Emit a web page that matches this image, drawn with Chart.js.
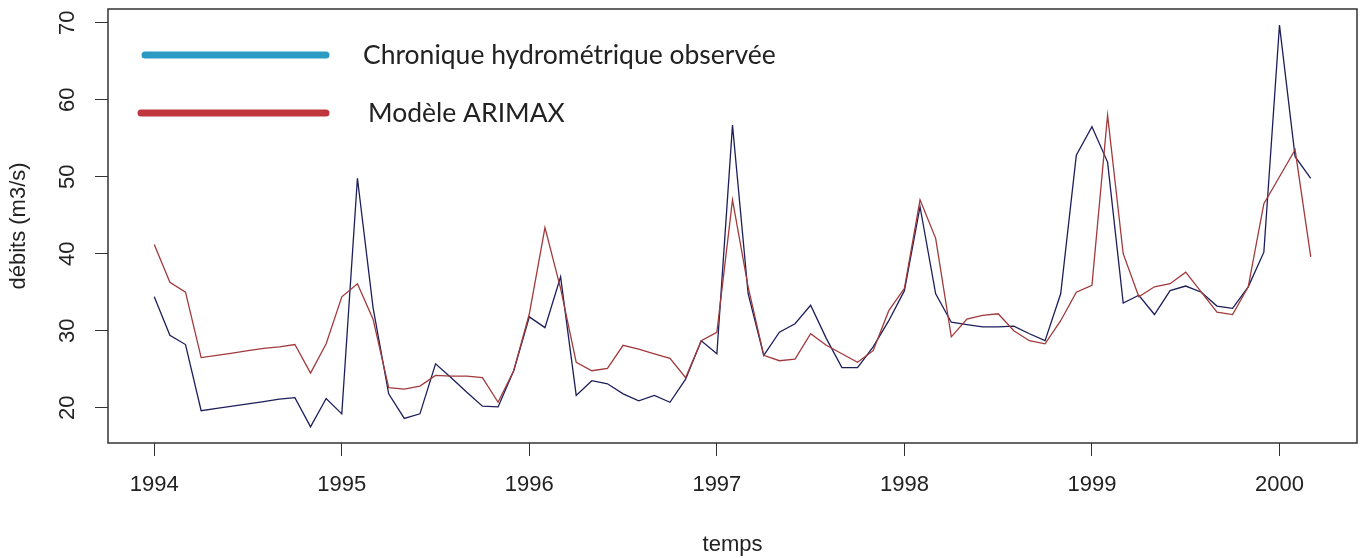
<!DOCTYPE html>
<html>
<head>
<meta charset="utf-8">
<script src="https://cdn.jsdelivr.net/npm/chart.js@4.4.0/dist/chart.umd.min.js"></script>
<style>
  html, body { margin: 0; padding: 0; background: #fff; }
  #wrap { width: 1360px; height: 558px; }
</style>
</head>
<body>
<div id="wrap"><canvas id="debitsChart" width="1360" height="558"></canvas></div>
<script>
// monthly series, starts January 1994 (like an R ts with frequency 12)
const startYear = 1994;
const perYear = 12;

const observed = [
  34.4, 29.4, 28.2, 19.6, 19.9, 20.2, 20.5, 20.8, 21.1, 21.3, 17.5, 21.2,
  19.2, 49.8, 33.0, 21.8, 18.6, 19.2, 25.7, 23.9, 22.0, 20.2, 20.1, 24.8,
  31.8, 30.4, 37.0, 21.6, 23.5, 23.1, 21.8, 20.9, 21.6, 20.7, 23.7, 28.7,
  27.0, 56.7, 34.8, 26.8, 29.8, 30.9, 33.3, 29.0, 25.2, 25.2, 27.9, 31.3,
  35.2, 46.1, 34.8, 31.1, 30.8, 30.5, 30.5, 30.6, 29.6, 28.7, 34.8, 52.8,
  56.5, 51.9, 33.6, 34.6, 32.1, 35.2, 35.8, 35.0, 33.2, 32.9, 35.7, 40.2,
  69.7, 52.6, 49.8
];

const arimax = [
  41.2, 36.3, 35.0, 26.5, 26.8, 27.1, 27.4, 27.7, 27.9, 28.2, 24.5, 28.3,
  34.4, 36.1, 31.5, 22.6, 22.4, 22.8, 24.2, 24.1, 24.1, 23.9, 20.7, 24.8,
  32.2, 43.4, 35.5, 25.9, 24.8, 25.1, 28.1, 27.6, 27.0, 26.4, 23.9, 28.7,
  29.8, 47.0, 35.7, 26.8, 26.1, 26.3, 29.6, 28.1, 27.0, 25.9, 27.4, 32.6,
  35.5, 47.0, 42.0, 29.2, 31.5, 32.0, 32.2, 30.0, 28.7, 28.3, 31.3, 35.0,
  35.9, 58.0, 40.0, 34.4, 35.7, 36.1, 37.6, 35.0, 32.4, 32.1, 35.7, 46.5,
  50.0, 53.5, 39.6
];

const yearTicks = [1994, 1995, 1996, 1997, 1998, 1999, 2000];
const debitTicks = [20, 30, 40, 50, 60, 70];

const legendLabels = ["Chronique hydrométrique observée", "Modèle ARIMAX"];
const legendColors = ["#2b9bc3", "#c0363d"];

const toPoints = arr => arr.map((v, i) => ({ x: startYear + i / perYear, y: v }));

// R style axis limits: data range + 4% each side
function rLimits(vals) {
  const lo = Math.min(...vals), hi = Math.max(...vals);
  const pad = (hi - lo) * 0.04;
  return [lo - pad, hi + pad];
}
const tEnd = startYear + (observed.length - 1) / perYear;
const [xMin, xMax] = rLimits([startYear, tEnd]);
const [yMin, yMax] = rLimits(observed.concat(arimax));

const tickFont = { family: "'Liberation Sans', Arial, sans-serif", size: 22 };

// frame around the plot region
const boxPlugin = {
  id: "box",
  afterDatasetsDraw(chart) {
    const a = chart.chartArea;
    const ctx = chart.ctx;
    ctx.save();
    ctx.strokeStyle = "#333";
    ctx.lineWidth = 1.5;
    ctx.strokeRect(a.left, a.top, a.right - a.left, a.bottom - a.top);
    ctx.restore();
  }
};

// legend drawn inside the plot, top left
const legendPlugin = {
  id: "innerLegend",
  afterDraw(chart) {
    const a = chart.chartArea;
    const ctx = chart.ctx;
    ctx.save();
    legendLabels.forEach((txt, i) => {
      const y = a.top + 46 + i * 58;
      ctx.strokeStyle = legendColors[i];
      ctx.lineWidth = 7;
      ctx.lineCap = "round";
      ctx.beginPath();
      ctx.moveTo(a.left + (i === 0 ? 37 : 33), y);
      ctx.lineTo(a.left + 218, y);
      ctx.stroke();
      ctx.fillStyle = "#222";
      ctx.font = "26.5px Lato, 'Open Sans', sans-serif";
      ctx.textBaseline = "middle";
      ctx.fillText(txt, a.left + (i === 0 ? 255 : 260), y);
    });
    ctx.restore();
  }
};

new Chart(document.getElementById("debitsChart"), {
  type: "line",
  data: {
    datasets: [
      {
        label: legendLabels[1],
        data: toPoints(arimax),
        borderColor: "#a03a3c",
        borderWidth: 1.3,
        pointRadius: 0,
        tension: 0,
        order: 0
      },
      {
        label: legendLabels[0],
        data: toPoints(observed),
        borderColor: "#1c1e5a",
        borderWidth: 1.3,
        pointRadius: 0,
        tension: 0,
        order: 1
      }
    ]
  },
  options: {
    responsive: false,
    animation: false,
    layout: { padding: { top: 9, right: 3, left: 0, bottom: 0 } },
    plugins: {
      legend: { display: false },
      tooltip: { enabled: false }
    },
    scales: {
      x: {
        type: "linear",
        min: xMin,
        max: xMax,
        afterBuildTicks: s => { s.ticks = yearTicks.map(v => ({ value: v })); },
        afterFit: s => { s.height = 115; s.paddingLeft = 0; s.paddingRight = 0; },
        grid: { drawOnChartArea: false, drawTicks: true, tickLength: 13, color: "#333" },
        border: { display: false },
        ticks: {
          font: tickFont,
          color: "#222",
          padding: 16,
          maxRotation: 0,
          autoSkip: false,
          callback: v => String(v)
        },
        title: {
          display: true,
          text: "temps",
          font: tickFont,
          color: "#222",
          padding: { top: 0, bottom: 0 }
        }
      },
      y: {
        min: yMin,
        max: yMax,
        afterBuildTicks: s => { s.ticks = debitTicks.map(v => ({ value: v })); },
        afterFit: s => { s.width = 108; s.paddingTop = 0; s.paddingBottom = 0; },
        grid: { drawOnChartArea: false, drawTicks: true, tickLength: 13, color: "#333" },
        border: { display: false },
        ticks: {
          font: tickFont,
          color: "#222",
          padding: 15,
          minRotation: 90,
          maxRotation: 90,
          crossAlign: "center",
          autoSkip: false,
          callback: v => String(v)
        },
        title: {
          display: true,
          text: "débits (m3/s)",
          font: tickFont,
          color: "#222",
          padding: { top: 6, bottom: 0 }
        }
      }
    }
  },
  plugins: [boxPlugin, legendPlugin]
});
</script>
</body>
</html>
